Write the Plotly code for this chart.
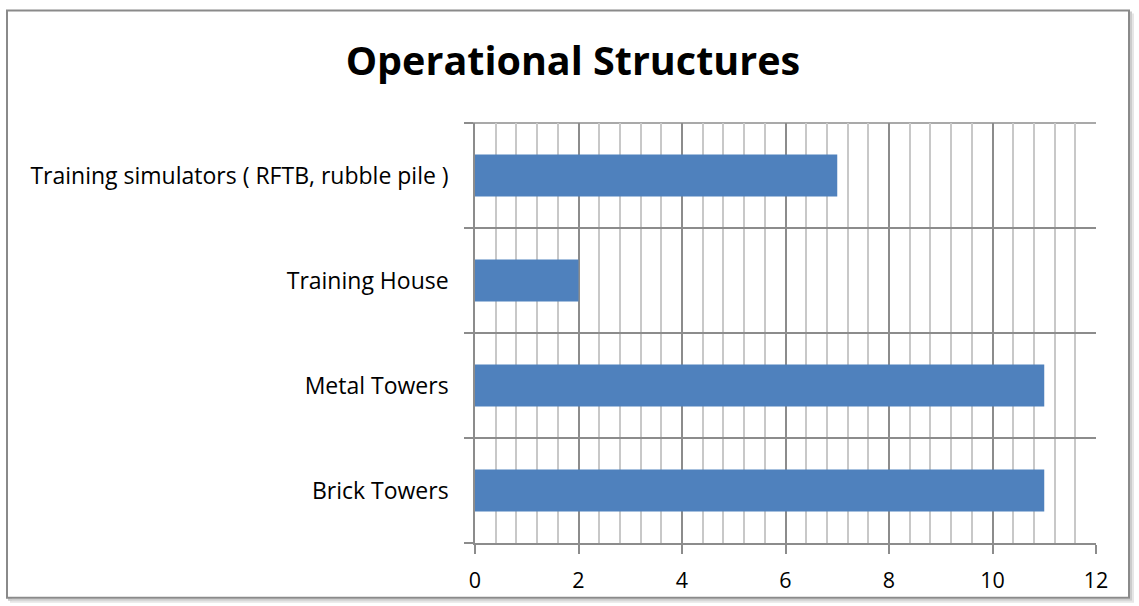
import plotly.graph_objects as go

categories = ["Brick Towers", "Metal Towers", "Training House", "Training simulators ( RFTB, rubble pile )"]
values = [11, 11, 2, 7]
title = "Operational Structures"

W, H = 1139, 606
L, R, T, B = 475, 43, 123, 61
pw, ph = W - L - R, H - T - B

def px(x):
    return (x - L) / pw

def py(y):
    return (H - B - y) / ph

fig = go.Figure()
fig.add_trace(go.Bar(
    y=categories, x=values, orientation="h",
    marker=dict(color="#4f81bd", line=dict(width=0)),
    width=0.4,
))

# chart frame with shadow
shapes = []
for off, col in [(4, "#e6e6e6"), (2, "#cccccc")]:
    shapes.append(dict(type="rect", xref="paper", yref="paper",
                       x0=px(7 + off), x1=px(1129 + off), y0=py(600 + off), y1=py(10 + off),
                       line=dict(color=col, width=2), layer="below"))
shapes.append(dict(type="rect", xref="paper", yref="paper",
                   x0=px(7), x1=px(1129), y0=py(600), y1=py(10),
                   line=dict(color="#8a8a8a", width=2), fillcolor="white", layer="below"))
# top boundary gridline of the plot area
shapes.append(dict(type="line", xref="paper", yref="paper", x0=px(466), x1=1, y0=1, y1=1,
                   line=dict(color="#8c8c8c", width=1.5), layer="below"))

fig.update_layout(
    width=W, height=H,
    margin=dict(l=L, r=R, t=T, b=B, pad=0),
    paper_bgcolor="white", plot_bgcolor="rgba(0,0,0,0)",
    showlegend=False,
    bargap=0.6,
    shapes=shapes,
    title=dict(text="<b>" + title + "</b>", x=0.503, xanchor="center", y=1 - 61 / H, yanchor="middle",
               font=dict(family="Open Sans", size=39.5, color="black")),
    font=dict(family="Open Sans", size=20, color="black"),
    xaxis=dict(range=[0, 12], dtick=2, tick0=0, showgrid=True, gridcolor="#8c8c8c", gridwidth=1.5,
               ticks="outside", ticklen=9, tickcolor="#8c8c8c", tickwidth=1.5,
               showline=True, linecolor="#8c8c8c", linewidth=1.5, zeroline=False,
               minor=dict(dtick=0.4, showgrid=True, gridcolor="#c8c8c8", gridwidth=1.5, ticks=""),
               tickfont=dict(size=21.5), fixedrange=True, ticklabelstandoff=8),
    yaxis=dict(type="category", categoryorder="array", categoryarray=categories,
               tickson="boundaries", showgrid=True, gridcolor="#8c8c8c", gridwidth=1.5,
               ticks="outside", ticklen=9, tickcolor="#8c8c8c", tickwidth=1.5,
               showline=True, linecolor="#8c8c8c", linewidth=1.5, mirror=False,
               tickfont=dict(size=23), fixedrange=True, ticklabelstandoff=20,
               range=[-0.5, 3.5]),
)
fig.write_html("out.html", config={"displayModeBar": False},
               post_script="document.body.style.margin='0';")
